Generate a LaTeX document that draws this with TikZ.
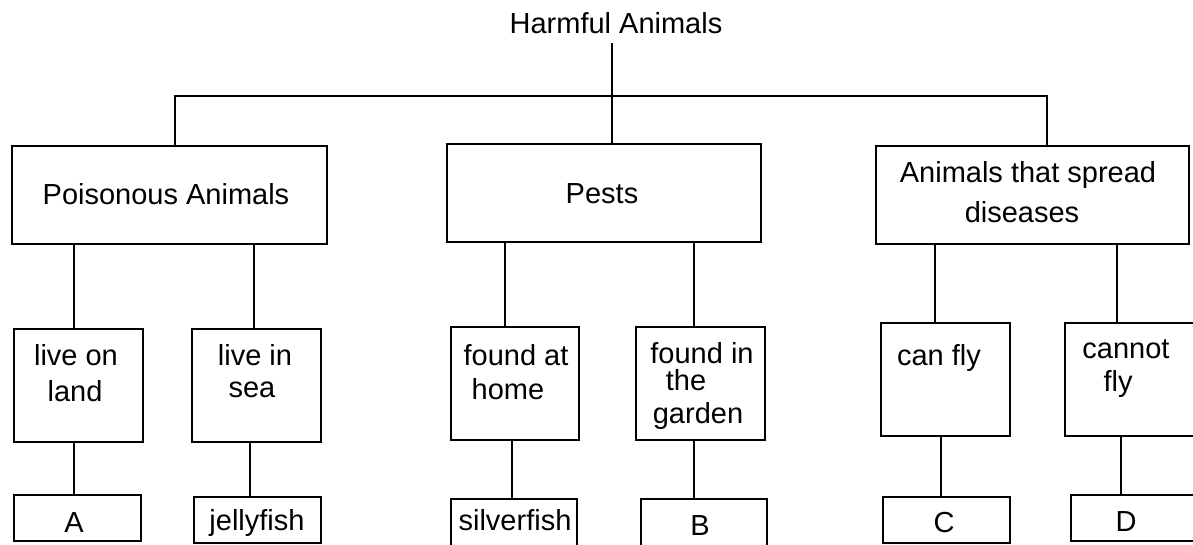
\documentclass[tikz,border=0pt]{standalone}
\usepackage{fontspec}
\setmainfont{Liberation Sans}
\begin{document}
\begin{tikzpicture}[x=1pt,y=-1pt,
  box/.style={draw=black, line width=1.6pt, rectangle, inner sep=0pt, outer sep=0pt},
  lbl/.style={inner sep=0pt, anchor=base, font=\fontsize{29}{34}\selectfont},
  link/.style={draw=black, line width=1.6pt}]
\useasboundingbox (0,0) rectangle (1193,544);
\clip (0,0) rectangle (1193,544);
% boxes: centre = ((l+r)/2,(t+b)/2), size = (r-l, b-t)
\node[box, minimum width=315pt, minimum height=98pt] (pois)   at (169.5,195) {};
\node[box, minimum width=314pt, minimum height=98pt] (pests)  at (604,193) {};
\node[box, minimum width=313pt, minimum height=98pt] (spread) at (1032.5,195) {};
\node[box, minimum width=129pt, minimum height=113pt] (land)   at (78.5,385.5) {};
\node[box, minimum width=129pt, minimum height=113pt] (sea)    at (256.5,385.5) {};
\node[box, minimum width=128pt, minimum height=113pt] (home)   at (515,383.5) {};
\node[box, minimum width=129pt, minimum height=113pt] (garden) at (700.5,383.5) {};
\node[box, minimum width=129pt, minimum height=113pt] (fly)    at (945.5,379.5) {};
\node[box, minimum width=130pt, minimum height=113pt] (nofly)  at (1130,379.5) {};
\node[box, minimum width=127pt, minimum height=46pt] (A)      at (77.5,518) {};
\node[box, minimum width=127pt, minimum height=46pt] (jelly)  at (257.5,520) {};
\node[box, minimum width=126pt, minimum height=52pt] (silver) at (514,525) {};
\node[box, minimum width=126pt, minimum height=52pt] (B)      at (704,525) {};
\node[box, minimum width=127pt, minimum height=46pt] (C)      at (946.5,520) {};
\node[box, minimum width=130pt, minimum height=46pt] (D)      at (1136,518) {};
% texts
\node[lbl] (title) at (616,33) {Harmful Animals};
\node[lbl] (tpois) at (166,204) {Poisonous Animals};
\node[lbl] (tpests) at (602,203) {Pests};
\node[lbl] (tspread1) at (1028,182) {Animals that spread};
\node[lbl] (tspread2) at (1022,222) {diseases};
\node[lbl] (tland1) at (76,365) {live on};
\node[lbl] (tland2) at (75,401) {land};
\node[lbl] (tsea1) at (255,365) {live in};
\node[lbl] (tsea2) at (252,397) {sea};
\node[lbl] (thome1) at (516,365) {found at};
\node[lbl] (thome2) at (508,399) {home};
\node[lbl] (tgarden1) at (702,363) {found in};
\node[lbl] (tgarden2) at (686,390) {the};
\node[lbl] (tgarden3) at (698,423) {garden};
\node[lbl] (tfly) at (939,365) {can fly};
\node[lbl] (tnofly1) at (1126,358) {cannot};
\node[lbl] (tnofly2) at (1118,391) {fly};
\node[lbl] (tA) at (74,532) {A};
\node[lbl] (tjelly) at (257,530) {jellyfish};
\node[lbl] (tsilver) at (515,530) {silverfish};
\node[lbl] (tB) at (700,535) {B};
\node[lbl] (tC) at (944,532) {C};
\node[lbl] (tD) at (1126,531) {D};
% connector x positions
\coordinate (hub) at (612,96);
\coordinate (xa) at (175,0);
\coordinate (xc) at (1047,0);
\coordinate (x1) at (74,0);
\coordinate (x2) at (254,0);
\coordinate (x2b) at (250,0);
\coordinate (x3) at (505,0);
\coordinate (x3b) at (512,0);
\coordinate (x4) at (694,0);
\coordinate (x5) at (935,0);
\coordinate (x5b) at (941,0);
\coordinate (x6) at (1117,0);
\coordinate (x6b) at (1121,0);
% top tree
\draw[link] ([yshift=-10pt]title.south -| hub) -- (hub) -- (pests.north -| hub);
\draw[link] (pois.north -| xa) -- (xa |- hub) -- (xc |- hub) -- (spread.north -| xc);
% second level
\draw[link] (pois.south -| x1) -- (land.north -| x1);
\draw[link] (pois.south -| x2) -- (sea.north -| x2);
\draw[link] (pests.south -| x3) -- (home.north -| x3);
\draw[link] (pests.south -| x4) -- (garden.north -| x4);
\draw[link] (spread.south -| x5) -- (fly.north -| x5);
\draw[link] (spread.south -| x6) -- (nofly.north -| x6);
% third level
\draw[link] (land.south -| x1) -- (A.north -| x1);
\draw[link] (sea.south -| x2b) -- (jelly.north -| x2b);
\draw[link] (home.south -| x3b) -- (silver.north -| x3b);
\draw[link] (garden.south -| x4) -- (B.north -| x4);
\draw[link] (fly.south -| x5b) -- (C.north -| x5b);
\draw[link] (nofly.south -| x6b) -- (D.north -| x6b);
\end{tikzpicture}
\end{document}
